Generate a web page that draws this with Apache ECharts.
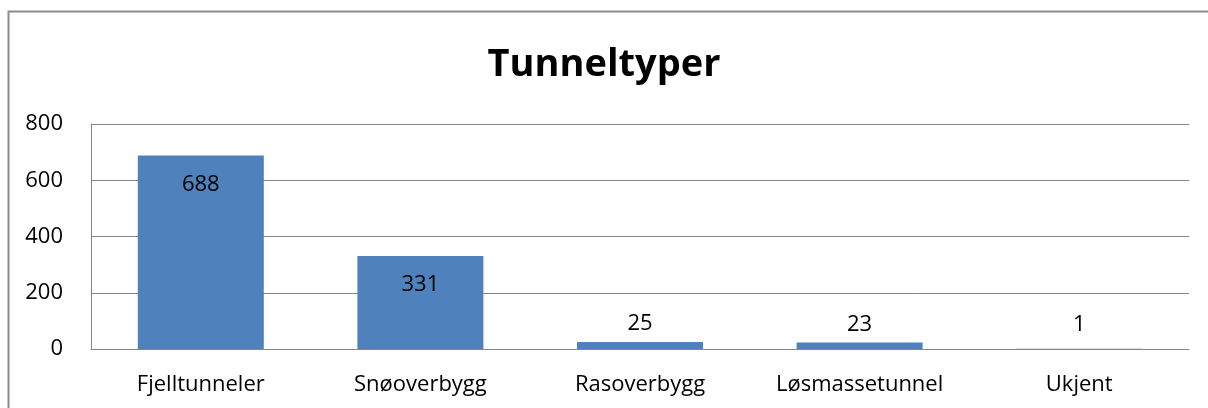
<!DOCTYPE html>
<html lang="no">
<head>
    <meta charset="UTF-8">
    <title>Tunneltyper</title>
    <script src="https://cdn.jsdelivr.net/npm/echarts@6/dist/echarts.min.js"></script>
    <style>
        html, body { margin: 0; padding: 0; background: #fff; }
        #chart { width: 1208px; height: 408px; }
    </style>
</head>
<body>
    <div id="chart"></div>
    <script>
        // data
        const categories = ['Fjelltunneler', 'Snøoverbygg', 'Rasoverbygg', 'Løsmassetunnel', 'Ukjent'];
        const counts = [688, 331, 25, 23, 1];
        const yTicks = [0, 200, 400, 600, 800];

        const chart = echarts.init(document.getElementById('chart'));
        const font = '"Open Sans", Lato, sans-serif';

        // large bars get the label inside, small ones above (all small labels on one line)
        const barData = counts.map(v => ({
            value: v,
            label: v > 100
                ? { position: 'insideTop', distance: 18 }
                : { position: 'top', distance: v < 10 ? 13 : 7 }
        }));

        chart.setOption({
            animation: false,
            backgroundColor: '#fff',
            title: {
                text: 'Tunneltyper',
                left: 'center',
                top: 41,
                textStyle: { fontFamily: font, fontSize: 38, fontWeight: 'bold', color: '#000' }
            },
            graphic: [{
                type: 'rect',
                shape: { x: 8.5, y: 11.5, width: 1300, height: 500 },
                style: { fill: 'none', stroke: '#8c8c8c', lineWidth: 2 },
                silent: true
            }],
            grid: { left: 91, right: 19, top: 124, bottom: 59 },
            xAxis: {
                type: 'category',
                data: categories,
                axisLine: { lineStyle: { color: '#868686', width: 1 } },
                axisTick: { show: false },
                axisLabel: { fontFamily: font, fontSize: 22, color: '#000', margin: 25 }
            },
            yAxis: {
                type: 'value',
                min: yTicks[0],
                max: yTicks[yTicks.length - 1],
                interval: yTicks[1] - yTicks[0],
                axisLine: { show: true, lineStyle: { color: '#868686', width: 1 } },
                axisTick: { show: false },
                splitLine: { lineStyle: { color: '#868686', width: 1 } },
                axisLabel: { fontFamily: font, fontSize: 22, color: '#000', margin: 28 }
            },
            series: [{
                type: 'bar',
                data: barData,
                barWidth: 126,
                itemStyle: { color: '#4F81BD' },
                label: { show: true, fontFamily: font, fontSize: 22, color: '#000' }
            }]
        });
    </script>
</body>
</html>
